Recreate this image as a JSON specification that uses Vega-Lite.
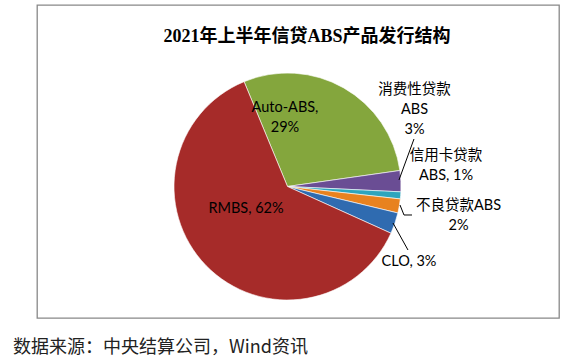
{
  "$schema": "https://vega.github.io/schema/vega-lite/v6.json",
  "width": 522,
  "height": 313,
  "autosize": "none",
  "padding": {"left": 37, "top": 5, "right": 24, "bottom": 44},
  "background": "white",
  "title": {
    "text": "2021年上半年信贷ABS产品发行结构",
    "font": "Liberation Serif, Noto Sans CJK SC",
    "fontSize": 18,
    "fontWeight": "bold",
    "color": "#000000",
    "anchor": "middle",
    "frame": "group",
    "offset": -41,
    "dx": 9
  },
  "data": {
    "values": [
      {"category": "Auto-ABS", "value": 29, "order": 1, "label": "Auto-ABS,\n29%"},
      {"category": "消费性贷款ABS", "value": 3, "order": 2, "label": "消费性贷款\nABS\n3%"},
      {"category": "信用卡贷款ABS", "value": 1, "order": 3, "label": "信用卡贷款\nABS, 1%"},
      {"category": "不良贷款ABS", "value": 2, "order": 4, "label": "不良贷款ABS\n2%"},
      {"category": "CLO", "value": 3, "order": 5, "label": "CLO, 3%"},
      {"category": "RMBS", "value": 62, "order": 6, "label": "RMBS, 62%"}
    ]
  },
  "layer": [
    {
      "mark": {"type": "arc", "outerRadius": 113.5, "stroke": "#ffffff", "strokeWidth": 0.6},
      "encoding": {
        "x": {
          "datum": 0, "type": "quantitative",
          "scale": {"domain": [-2.207, 2.3921], "nice": false, "zero": false},
          "axis": null
        },
        "y": {
          "datum": 0, "type": "quantitative",
          "scale": {"domain": [-1.1586, 1.5991], "nice": false, "zero": false},
          "axis": null
        },
        "theta": {"field": "value", "type": "quantitative", "stack": true, "scale": {"range": [-0.3927, 5.8905]}},
        "order": {"field": "order", "type": "quantitative"},
        "color": {
          "field": "category", "type": "nominal",
          "scale": {
            "domain": ["Auto-ABS", "消费性贷款ABS", "信用卡贷款ABS", "不良贷款ABS", "CLO", "RMBS"],
            "range": ["#84a63d", "#6a4d94", "#2ea5bd", "#e8821f", "#2f6bb0", "#a62b29"]
          },
          "legend": null
        }
      }
    },
    {
      "transform": [{"filter": "datum.order === 1"}],
      "mark": "text",
      "encoding": {"x": {"datum": -0.022, "axis": null}, "y": {"datum": 0.6916, "axis": null}, "text": {"field": "label"}}
    },
    {
      "transform": [{"filter": "datum.order === 2"}],
      "mark": "text",
      "encoding": {"x": {"datum": 1.1189, "axis": null}, "y": {"datum": 0.8502, "axis": null}, "text": {"field": "label"}}
    },
    {
      "transform": [{"filter": "datum.order === 3"}],
      "mark": "text",
      "encoding": {"x": {"datum": 1.3965, "axis": null}, "y": {"datum": 0.2687, "axis": null}, "text": {"field": "label"}}
    },
    {
      "transform": [{"filter": "datum.order === 4"}],
      "mark": "text",
      "encoding": {"x": {"datum": 1.5066, "axis": null}, "y": {"datum": -0.1718, "axis": null}, "text": {"field": "label"}}
    },
    {
      "transform": [{"filter": "datum.order === 5"}],
      "mark": "text",
      "encoding": {"x": {"datum": 1.0705, "axis": null}, "y": {"datum": -0.6652, "axis": null}, "text": {"field": "label"}}
    },
    {
      "transform": [{"filter": "datum.order === 6"}],
      "mark": "text",
      "encoding": {"x": {"datum": -0.3656, "axis": null}, "y": {"datum": -0.1982, "axis": null}, "text": {"field": "label"}}
    },
    {
      "transform": [{"filter": "datum.order === 2"}],
      "mark": {"type": "rule", "color": "#000000", "strokeWidth": 1},
      "encoding": {"x": {"datum": 0.9824, "axis": null}, "y": {"datum": 0.0573, "axis": null}, "x2": {"datum": 1.1145}, "y2": {"datum": 0.4185}}
    },
    {
      "transform": [{"filter": "datum.order === 4"}],
      "mark": {"type": "rule", "color": "#000000", "strokeWidth": 1},
      "encoding": {"x": {"datum": 0.9912, "axis": null}, "y": {"datum": -0.163, "axis": null}, "x2": {"datum": 1.0264}, "y2": {"datum": -0.2511}}
    },
    {
      "transform": [{"filter": "datum.order === 4"}],
      "mark": {"type": "rule", "color": "#000000", "strokeWidth": 1},
      "encoding": {"x": {"datum": 1.0264, "axis": null}, "y": {"datum": -0.2511, "axis": null}, "x2": {"datum": 1.0969}, "y2": {"datum": -0.2511}}
    },
    {
      "transform": [{"filter": "datum.order === 5"}],
      "mark": {"type": "rule", "color": "#000000", "strokeWidth": 1},
      "encoding": {"x": {"datum": 0.9295, "axis": null}, "y": {"datum": -0.3216, "axis": null}, "x2": {"datum": 1.0617}, "y2": {"datum": -0.5595}}
    },
    {
      "data": {"values": [{"source": "数据来源：中央结算公司，Wind资讯"}]},
      "mark": {"type": "text", "align": "left", "font": "Noto Sans CJK SC", "fontSize": 18, "color": "#222222"},
      "encoding": {"x": {"datum": -2.4185, "axis": null}, "y": {"datum": -1.4229, "axis": null}, "text": {"field": "source"}}
    }
  ],
  "config": {
    "view": {"stroke": "#888888", "strokeWidth": 1.3},
    "text": {
      "font": "Lato, Noto Sans CJK SC",
      "fontSize": 14.5,
      "lineBreak": "\n",
      "lineHeight": 20,
      "align": "center",
      "baseline": "middle",
      "color": "#000000"
    }
  }
}
